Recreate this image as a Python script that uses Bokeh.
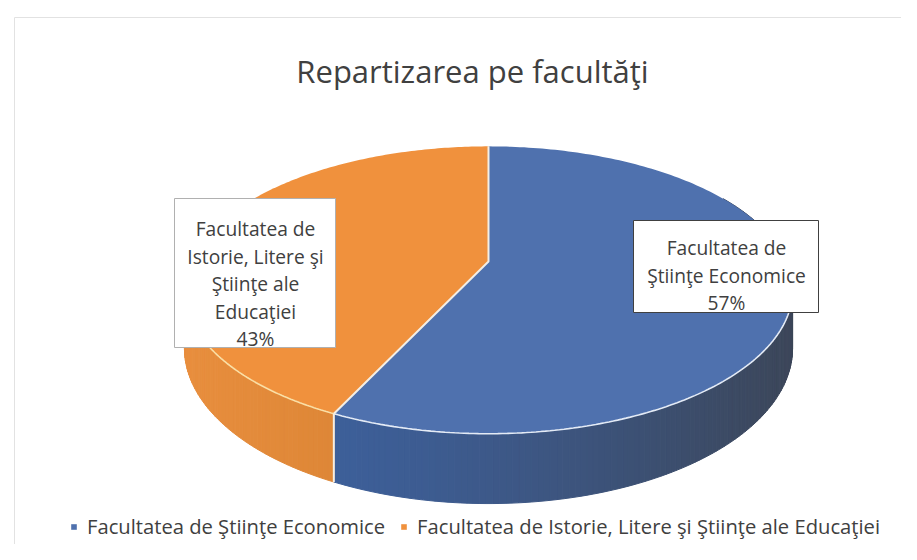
import numpy as np
from bokeh.plotting import figure
from bokeh.models import ColumnDataSource, Range1d, Legend, LegendItem
from bokeh.core.properties import value
from bokeh.embed import file_html
from bokeh.resources import INLINE

# ---------------- data ----------------
title = "Repartizarea pe facultăţi"
categories = ["Facultatea de Ştiinţe Economice",
              "Facultatea de Istorie, Litere şi Ştiinţe ale Educaţiei"]
percent = [57, 43]
label_lines = [["Facultatea de", "Ştiinţe Economice"],
               ["Facultatea de", "Istorie, Litere şi", "Ştiinţe ale", "Educaţiei"]]

top_colors = ["#4F71AE", "#F0913D"]
side_start = ["#3D5F99", "#E88E3E"]
side_end = ["#3C4659", "#DE8737"]
rim_colors = ["#E4EBF6", "#FADFA6"]
FONT = "Open Sans"
TXT = "#404040"

# ---------------- figure ----------------
W, H = 901, 544
p = figure(width=W, height=H, x_range=Range1d(0, W), y_range=Range1d(H, 0),
           output_backend="svg", toolbar_location=None, min_border=0,
           x_axis_type=None, y_axis_type=None, outline_line_color=None)
p.xgrid.visible = False
p.ygrid.visible = False
p.background_fill_color = "white"

# faint chart frame
p.quad(left=[14], right=[905], top=[17], bottom=[600], fill_alpha=0,
       line_color="#E2E2E2", line_width=1)

# ---------------- 3D pie geometry (perspective disc) ----------------
CX, CY = 488, 261
A, B, K = 298, 138, 0.1986
D0 = 56


def proj(theta_deg):
    t = np.radians(theta_deg)
    u, v = np.sin(t), np.cos(t)
    w = 1 + K * v
    return CX + A * u / w, CY - B * v / w, D0 / w


def hex2rgb(h):
    h = h.lstrip("#")
    return np.array([int(h[i:i + 2], 16) for i in (0, 2, 4)], dtype=float)


def mix(c1, c2, f):
    c = hex2rgb(c1) * (1 - f) + hex2rgb(c2) * f
    return "#%02x%02x%02x" % tuple(int(round(x)) for x in c)


total = float(sum(percent))
bounds = np.concatenate([[0.0], np.cumsum(percent) / total * 360.0])

# side walls
side_xs, side_ys, side_cols = [], [], []
vis_ranges = [(60.0, bounds[1]), (bounds[1], 300.0)]
for i in range(len(percent)):
    a0, a1 = vis_ranges[i]
    th = np.linspace(a0, a1, int((a1 - a0) / 1.0) + 2)
    x, y, d = proj(th)
    xmin, xmax = 330.0, 792.0
    for j in range(len(th) - 1):
        side_xs.append([x[j], x[j + 1], x[j + 1], x[j]])
        side_ys.append([y[j], y[j + 1], y[j + 1] + d[j + 1], y[j] + d[j]])
        xm = 0.5 * (x[j] + x[j + 1])
        if i == 0:
            f = np.clip((xm - xmin) / (xmax - xmin), 0, 1) ** 1.3
        else:
            f = 1 - np.clip((330 - xm) / (330 - 184), 0, 1)
        side_cols.append(mix(side_start[i], side_end[i], f))
p.patches(xs=side_xs, ys=side_ys, fill_color=side_cols, line_color=side_cols, line_width=1)

# top faces
top_xs, top_ys = [], []
for i in range(len(percent)):
    th = np.linspace(bounds[i], bounds[i + 1], 200)
    x, y, d = proj(th)
    top_xs.append(np.concatenate([[CX], x]).tolist())
    top_ys.append(np.concatenate([[CY], y]).tolist())
src = ColumnDataSource(dict(xs=top_xs, ys=top_ys, color=top_colors, cat=categories))
tops = p.patches(xs="xs", ys="ys", fill_color="color", line_color=None, source=src)

# rim highlight along the front edge
for i in range(len(percent)):
    a0, a1 = vis_ranges[i]
    a0 = max(a0, 95.0)
    a1 = min(a1, 275.0)
    th = np.linspace(a0, a1, 150)
    x, y, d = proj(th)
    p.line(x, y, line_color=rim_colors[i], line_width=1.6)

# slice separators
xb, yb, db = proj(np.array([0.0, bounds[1]]))
p.line([xb[0], CX, xb[1]], [yb[0], CY, yb[1]], line_color="#F4EEE4", line_width=2)
p.line([xb[1], xb[1]], [yb[1], yb[1] + db[1]], line_color="#F4EEE4", line_width=2)

# ---------------- data labels ----------------
boxes = {0: dict(l=633, r=818, t=220, b=312, cx=726, y0=247, border="#404040"),
         1: dict(l=174, r=335, t=198, b=347, cx=255, y0=228, border="#B0B0B0")}
for i in range(len(percent)):
    bx = boxes[i]
    p.quad(left=[bx["l"]], right=[bx["r"]], top=[bx["t"]], bottom=[bx["b"]],
           fill_color="white", line_color=bx["border"], line_width=1)
    lines = label_lines[i] + ["%d%%" % percent[i]]
    ys = [bx["y0"] + 27.6 * j for j in range(len(lines))]
    p.text(x=[bx["cx"]] * len(lines), y=ys, text=lines, text_align="center",
           text_baseline="alphabetic", text_font=value(FONT), text_font_size="19.2px",
           text_color=TXT)

# ---------------- title ----------------
p.text(x=[472], y=[70], text=[title], text_align="center", text_baseline="alphabetic",
       text_font=value(FONT), text_font_size="31px", text_color=TXT)

# ---------------- legend ----------------
legend = Legend(items=[LegendItem(label=categories[i], renderers=[tops], index=i)
                       for i in range(len(categories))],
                orientation="horizontal", location=(70, 4),
                glyph_width=7, glyph_height=7, label_standoff=10, spacing=15,
                padding=0, margin=0, border_line_color=None, background_fill_alpha=0,
                label_text_font=FONT, label_text_font_size="20.2px", label_text_color=TXT)
p.add_layout(legend, "center")

open("out.html", "w").write(file_html(p, INLINE))
